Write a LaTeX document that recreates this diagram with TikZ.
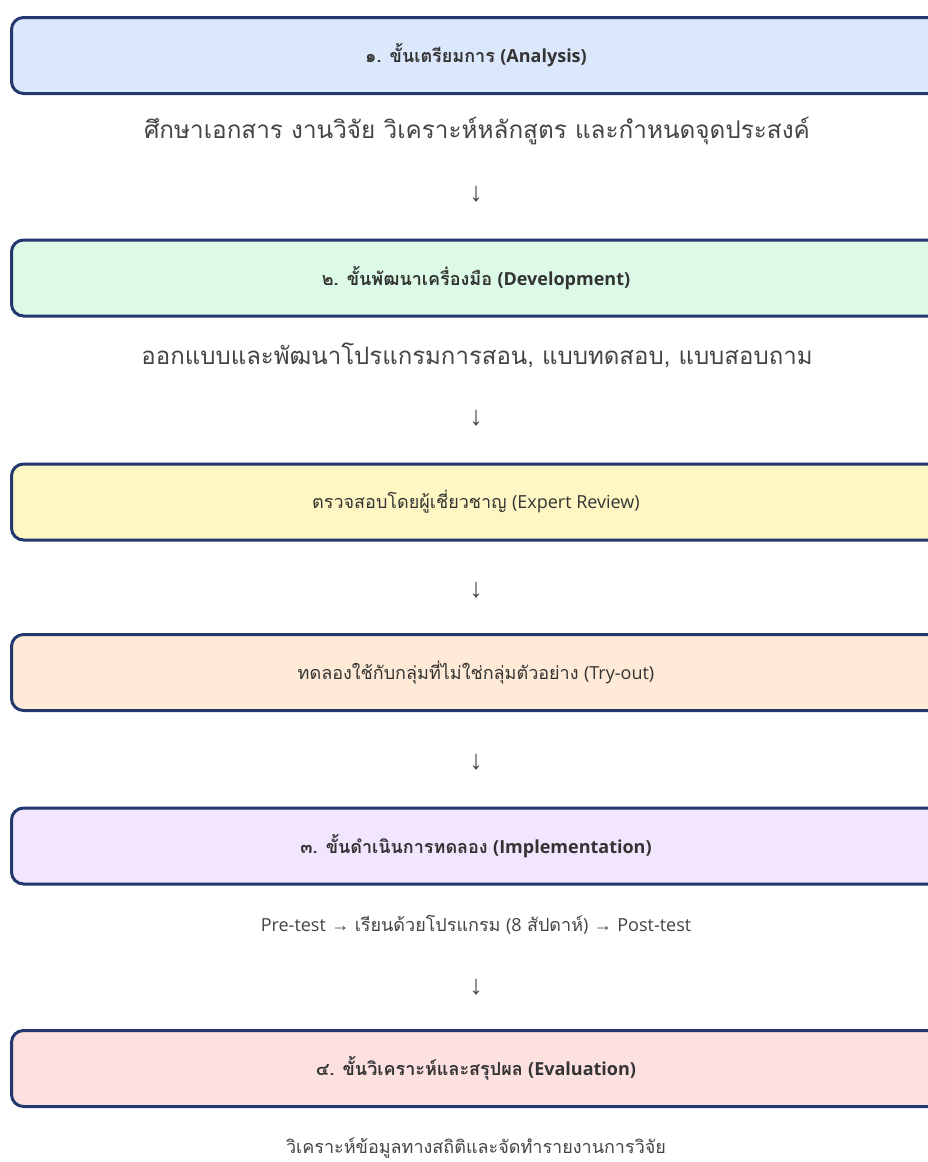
\documentclass[tikz,border=0pt]{standalone}
\usepackage{fontspec}
\newfontfamily\thaifont[Script=Thai]{Loma}
\newfontfamily\latfont{Open Sans}
\newfontfamily\arrfont{Liberation Sans}
\definecolor{navy}{HTML}{22386E}
\definecolor{txt}{HTML}{333333}
\definecolor{subtxt}{HTML}{444444}
\definecolor{cblue}{HTML}{DBE8FC}
\definecolor{cgreen}{HTML}{DCFAE6}
\definecolor{cyellow}{HTML}{FEF7C3}
\definecolor{corange}{HTML}{FEEAD6}
\definecolor{cpurple}{HTML}{F1E6FE}
\definecolor{cred}{HTML}{FDE1E1}
\tikzset{
  stepbox/.style={draw=navy, line width=3pt, rounded corners=12pt,
    minimum width=929pt, minimum height=76pt, inner sep=0pt,
    text=txt, font=\fontsize{18}{22}\selectfont},
  subtext/.style={text=subtxt, inner sep=0pt, font=\fontsize{18}{22}\selectfont},
  bigsubtext/.style={subtext, font=\fontsize{24.3}{28}\selectfont},
  downarrow/.style={text=subtxt, inner sep=0pt, font=\arrfont\fontsize{27}{30}\selectfont}
}
\begin{document}
\begin{tikzpicture}[x=1pt,y=-1pt]
\useasboundingbox (0,0) rectangle (928,1162);
\fill[white] (0,0) rectangle (928,1162);
% boxes
\node[stepbox, fill=cblue] (b1) at (476,55.5)
  {{\thaifont\bfseries ๑. ขั้นเตรียมการ} {\latfont\bfseries (Analysis)}};
\node[bigsubtext] (s1) at (477,131) {\thaifont ศึกษาเอกสาร งานวิจัย วิเคราะห์หลักสูตร และกำหนดจุดประสงค์};
\node[downarrow] (a1) at (476,194) {↓};
\node[stepbox, fill=cgreen] (b2) at (476,278)
  {{\thaifont\bfseries ๒. ขั้นพัฒนาเครื่องมือ} {\latfont\bfseries (Development)}};
\node[bigsubtext, font=\fontsize{24}{28}\selectfont] (s2) at (477,355) {\thaifont ออกแบบและพัฒนาโปรแกรมการสอน, แบบทดสอบ, แบบสอบถาม};
\node[downarrow] (a2) at (476,418) {↓};
\node[stepbox, fill=cyellow] (b3) at (476,502)
  {{\thaifont ตรวจสอบโดยผู้เชี่ยวชาญ} {\latfont (Expert Review)}};
\node[downarrow] (a3) at (476,590) {↓};
\node[stepbox, fill=corange] (b4) at (476,672.5)
  {{\thaifont ทดลองใช้กับกลุ่มที่ไม่ใช่กลุ่มตัวอย่าง} {\latfont (Try-out)}};
\node[downarrow] (a4) at (476,762) {↓};
\node[stepbox, fill=cpurple] (b5) at (476,846)
  {{\thaifont\bfseries ๓. ขั้นดำเนินการทดลอง} {\latfont\bfseries (Implementation)}};
\node[subtext] (s5) at (476,925)
  {{\latfont Pre-test} {\arrfont →} {\thaifont เรียนด้วยโปรแกรม} {\latfont (8} {\thaifont สัปดาห์}{\latfont )} {\arrfont →} {\latfont Post-test}};
\node[downarrow] (a5) at (476,987) {↓};
\node[stepbox, fill=cred] (b6) at (476,1068.5)
  {{\thaifont\bfseries ๔. ขั้นวิเคราะห์และสรุปผล} {\latfont\bfseries (Evaluation)}};
\node[subtext] (s6) at (476,1148) {\thaifont วิเคราะห์ข้อมูลทางสถิติและจัดทำรายงานการวิจัย};
\end{tikzpicture}
\end{document}
